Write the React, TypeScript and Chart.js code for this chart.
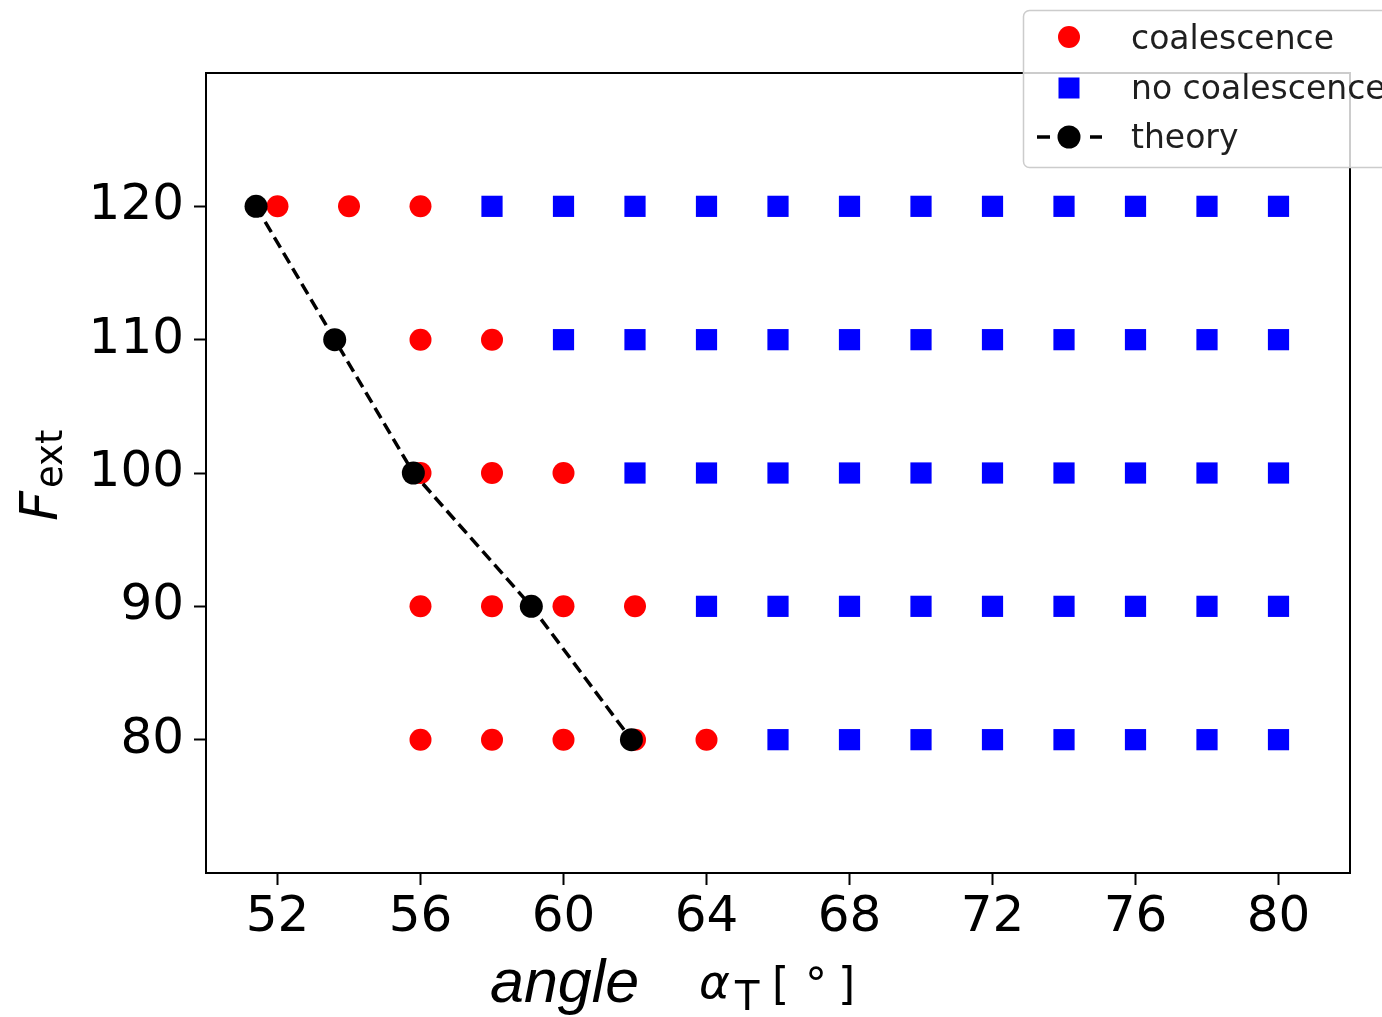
import React, { useEffect, useRef } from 'react';
import { Chart, registerables } from 'chart.js';

Chart.register(...registerables);

// ---- data ----
const coalescenceX = [52, 54, 56, 56, 58, 56, 58, 60, 56, 58, 60, 62, 56, 58, 60, 62, 64];
const coalescenceY = [120, 120, 120, 110, 110, 100, 100, 100, 90, 90, 90, 90, 80, 80, 80, 80, 80];

const noCoalescenceX = [
  58, 60, 62, 64, 66, 68, 70, 72, 74, 76, 78, 80,
  60, 62, 64, 66, 68, 70, 72, 74, 76, 78, 80,
  62, 64, 66, 68, 70, 72, 74, 76, 78, 80,
  64, 66, 68, 70, 72, 74, 76, 78, 80,
  66, 68, 70, 72, 74, 76, 78, 80,
];
const noCoalescenceY = [
  120, 120, 120, 120, 120, 120, 120, 120, 120, 120, 120, 120,
  110, 110, 110, 110, 110, 110, 110, 110, 110, 110, 110,
  100, 100, 100, 100, 100, 100, 100, 100, 100, 100,
  90, 90, 90, 90, 90, 90, 90, 90, 90,
  80, 80, 80, 80, 80, 80, 80, 80,
];

const theoryX = [51.4, 53.6, 55.8, 59.1, 61.9];
const theoryY = [120, 110, 100, 90, 80];

const xTicks = [52, 56, 60, 64, 68, 72, 76, 80];
const yTicks = [80, 90, 100, 110, 120];

const legendLabels = ['coalescence', 'no coalescence', 'theory'];

const toPoints = (xs: number[], ys: number[]) => xs.map((x, i) => ({ x, y: ys[i] }));

const decorPlugin = {
  id: 'decor',
  afterDraw(chart: any) {
    const ctx: CanvasRenderingContext2D = chart.ctx;
    const { left, top, right, bottom } = chart.chartArea;
    ctx.save();
    // spines
    ctx.strokeStyle = '#000';
    ctx.lineWidth = 2;
    ctx.strokeRect(left, top, right - left, bottom - top);

    // legend box
    ctx.beginPath();
    (ctx as any).roundRect(1023.5, 10.5, 420, 157, 6);
    ctx.fillStyle = 'rgba(255,255,255,0.8)';
    ctx.fill();
    ctx.strokeStyle = '#cccccc';
    ctx.lineWidth = 1.5;
    ctx.stroke();

    const mx = 1069;
    // coalescence
    ctx.fillStyle = '#ff0000';
    ctx.beginPath();
    ctx.arc(mx, 37, 11, 0, Math.PI * 2);
    ctx.fill();
    // no coalescence
    ctx.fillStyle = '#0000ff';
    ctx.fillRect(mx - 10.5, 88 - 10.5, 21, 21);
    // theory
    ctx.strokeStyle = '#000';
    ctx.lineWidth = 3.5;
    ctx.beginPath();
    ctx.moveTo(1037, 137);
    ctx.lineTo(1050, 137);
    ctx.moveTo(1090, 137);
    ctx.lineTo(1102, 137);
    ctx.stroke();
    ctx.fillStyle = '#000';
    ctx.beginPath();
    ctx.arc(mx, 137, 11.5, 0, Math.PI * 2);
    ctx.fill();

    ctx.fillStyle = '#1f1f1f';
    ctx.font = '33px "DejaVu Sans"';
    ctx.textBaseline = 'alphabetic';
    ctx.textAlign = 'left';
    ctx.fillText(legendLabels[0], 1131, 49);
    ctx.fillText(legendLabels[1], 1131, 99);
    ctx.fillText(legendLabels[2], 1131, 148);

    // x-axis title
    ctx.fillStyle = '#000';
    ctx.font = 'italic 61px "Liberation Sans"';
    ctx.fillText('angle', 490, 1002);
    ctx.font = 'italic 47px "DejaVu Sans"';
    ctx.fillText('α', 699, 998);
    ctx.font = '40px "DejaVu Sans"';
    ctx.fillText('T', 735, 1010);
    ctx.font = '44px "DejaVu Sans"';
    ctx.fillText('[', 772, 999);
    ctx.fillText('°', 805, 999);
    ctx.fillText(']', 838, 999);

    // y-axis title
    ctx.translate(57, 521);
    ctx.rotate(-Math.PI / 2);
    ctx.font = 'italic 52px "DejaVu Sans"';
    ctx.fillText('F', 0, 0);
    ctx.font = '37px "DejaVu Sans"';
    ctx.fillText('ext', 33, 5);
    ctx.restore();
  },
};

export default function App() {
  const canvasRef = useRef<HTMLCanvasElement | null>(null);

  useEffect(() => {
    const canvas = canvasRef.current;
    if (!canvas) return;
    const chart = new Chart(canvas, {
      type: 'scatter',
      data: {
        datasets: [
          {
            label: legendLabels[2],
            data: toPoints(theoryX, theoryY),
            showLine: true,
            borderColor: '#000',
            borderWidth: 3.5,
            borderDash: [12, 6],
            backgroundColor: '#000',
            pointBackgroundColor: '#000',
            pointBorderWidth: 0,
            pointRadius: 11.5,
            pointStyle: 'circle',
            order: 0,
          },
          {
            label: legendLabels[1],
            data: toPoints(noCoalescenceX, noCoalescenceY),
            backgroundColor: '#0000ff',
            pointBackgroundColor: '#0000ff',
            pointBorderWidth: 0,
            pointRadius: 15,
            pointStyle: 'rect',
            order: 2,
          },
          {
            label: legendLabels[0],
            data: toPoints(coalescenceX, coalescenceY),
            backgroundColor: '#ff0000',
            pointBackgroundColor: '#ff0000',
            pointBorderWidth: 0,
            pointRadius: 11,
            pointStyle: 'circle',
            order: 1,
          },
        ],
      },
      options: {
        animation: false,
        responsive: false,
        devicePixelRatio: 1,
        layout: { padding: { top: 73, right: 32, left: 0, bottom: 0 } },
        plugins: {
          legend: { display: false },
          tooltip: { enabled: false },
        },
        scales: {
          x: {
            type: 'linear',
            min: 50,
            max: 82,
            afterBuildTicks: (scale: any) => {
              scale.ticks = xTicks.map((v) => ({ value: v }));
            },
            afterFit: (scale: any) => {
              scale.height = 144;
            },
            grid: {
              display: true,
              drawOnChartArea: false,
              drawTicks: true,
              tickLength: 12,
              tickWidth: 2,
              tickColor: '#000',
            },
            border: { display: false },
            ticks: {
              color: '#000',
              padding: 3,
              maxRotation: 0,
              autoSkip: false,
              font: { family: '"DejaVu Sans"', size: 50 },
            },
          },
          y: {
            type: 'linear',
            min: 70,
            max: 130,
            afterBuildTicks: (scale: any) => {
              scale.ticks = yTicks.map((v) => ({ value: v }));
            },
            afterFit: (scale: any) => {
              scale.width = 206;
            },
            grid: {
              display: true,
              drawOnChartArea: false,
              drawTicks: true,
              tickLength: 12,
              tickWidth: 2,
              tickColor: '#000',
            },
            border: { display: false },
            ticks: {
              color: '#000',
              padding: 10,
              autoSkip: false,
              font: { family: '"DejaVu Sans"', size: 50 },
            },
          },
        },
      },
      plugins: [decorPlugin],
    });
    return () => chart.destroy();
  }, []);

  return (
    <div style={{ position: 'fixed', left: 0, top: 0, width: 1382, height: 1017, background: '#fff' }}>
      <canvas ref={canvasRef} width={1382} height={1017} style={{ width: 1382, height: 1017, display: 'block' }} />
    </div>
  );
}
